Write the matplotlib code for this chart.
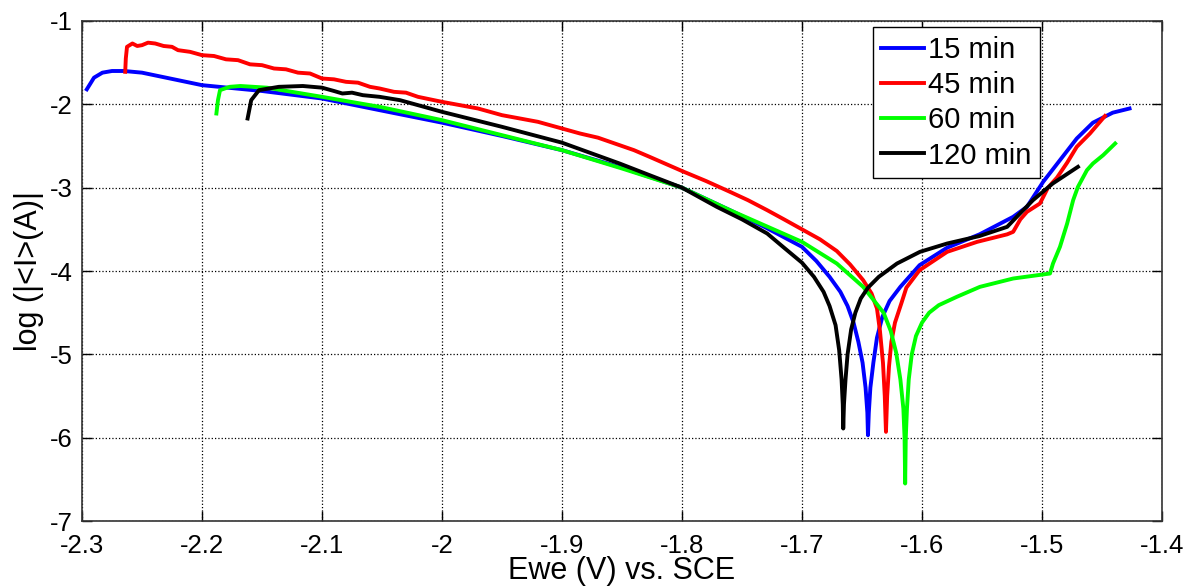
import matplotlib
matplotlib.use("Agg")
import matplotlib.pyplot as plt

plt.rcParams['font.family'] = ['Liberation Sans', 'DejaVu Sans']

# 15 min
x15 = [-2.296, -2.290, -2.283, -2.275, -2.265, -2.25, -2.2, -2.15, -2.1, -2.052, -2.0, -1.95,
       -1.9, -1.85, -1.8, -1.76, -1.73, -1.7, -1.688, -1.677, -1.668, -1.662, -1.657, -1.653,
       -1.6495, -1.647, -1.6455, -1.645, -1.6443, -1.643, -1.6405, -1.6375, -1.633, -1.627,
       -1.618, -1.602, -1.579, -1.552, -1.524, -1.5125, -1.499, -1.485, -1.471, -1.4575, -1.441,
       -1.427]
y15 = [-1.82, -1.68, -1.62, -1.60, -1.60, -1.62, -1.77, -1.84, -1.93, -2.07, -2.22, -2.38,
       -2.55, -2.76, -3.0, -3.27, -3.48, -3.71, -3.88, -4.07, -4.25, -4.42, -4.62, -4.85,
       -5.1, -5.4, -5.7, -5.97, -5.7, -5.4, -5.1, -4.8, -4.55, -4.36,
       -4.19, -3.93, -3.72, -3.56, -3.35, -3.23, -2.93, -2.67, -2.41, -2.22, -2.10,
       -2.05]

# 45 min
x45 = [-2.264, -2.2635, -2.2625, -2.258, -2.254, -2.25, -2.245, -2.239, -2.232, -2.225, -2.22,
       -2.21, -2.2, -2.19, -2.18, -2.17, -2.16, -2.15, -2.14, -2.13, -2.12, -2.11, -2.1, -2.09,
       -2.08, -2.07, -2.06, -2.052, -2.04, -2.03, -2.02, -2.0, -1.985, -1.97, -1.96, -1.95,
       -1.935, -1.92, -1.9, -1.885, -1.87, -1.852, -1.84, -1.827, -1.8, -1.78, -1.76, -1.745,
       -1.729, -1.715, -1.7, -1.685, -1.671, -1.66, -1.649, -1.642, -1.6375, -1.635, -1.6325,
       -1.631, -1.630, -1.629, -1.6275, -1.6255, -1.6225, -1.617, -1.613, -1.602, -1.579, -1.554,
       -1.529, -1.524, -1.518, -1.5125, -1.5017, -1.495, -1.4875, -1.479, -1.471, -1.46, -1.4475]
y45 = [-1.61, -1.45, -1.31, -1.27, -1.30, -1.29, -1.26, -1.27, -1.30, -1.31, -1.35,
       -1.37, -1.41, -1.42, -1.46, -1.47, -1.52, -1.53, -1.57, -1.58, -1.62, -1.63, -1.69, -1.70,
       -1.73, -1.74, -1.79, -1.81, -1.85, -1.86, -1.91, -1.97, -2.01, -2.05, -2.09, -2.13,
       -2.17, -2.21, -2.29, -2.35, -2.40, -2.49, -2.55, -2.63, -2.80, -2.92, -3.05, -3.15,
       -3.27, -3.38, -3.50, -3.62, -3.76, -3.92, -4.11, -4.27, -4.45, -4.72, -5.1,
       -5.5, -5.93, -5.5, -5.15, -4.85, -4.62, -4.38, -4.2, -3.99, -3.77, -3.65,
       -3.56, -3.53, -3.38, -3.29, -3.19, -3.0, -2.88, -2.70, -2.51, -2.35, -2.14]

# 60 min
x60 = [-2.188, -2.1867, -2.185, -2.177, -2.168, -2.146, -2.1, -2.052, -2.0, -1.95, -1.9, -1.85,
       -1.8, -1.76, -1.7, -1.671, -1.649, -1.632, -1.626, -1.6215, -1.618, -1.6155, -1.6145,
       -1.614, -1.6135, -1.6125, -1.611, -1.6085, -1.605, -1.6, -1.594, -1.586, -1.571, -1.5517,
       -1.524, -1.4933, -1.4908, -1.485, -1.479, -1.474, -1.47, -1.4625, -1.4575, -1.449, -1.439]
y60 = [-2.11, -1.95, -1.83, -1.79, -1.78, -1.80, -1.91, -2.03, -2.19, -2.37, -2.55, -2.77,
       -3.0, -3.27, -3.65, -3.91, -4.19, -4.50, -4.72, -4.98, -5.3, -5.65, -6.0,
       -6.55, -6.0, -5.65, -5.3, -5.0, -4.78, -4.62, -4.5, -4.41, -4.31, -4.19,
       -4.09, -4.03, -3.91, -3.71, -3.43, -3.15, -2.99, -2.79, -2.71, -2.61, -2.47]

# 120 min
x120 = [-2.162, -2.159, -2.1525, -2.136, -2.116, -2.1, -2.09, -2.083, -2.075, -2.066, -2.052,
        -2.035, -2.0, -1.95, -1.9, -1.852, -1.827, -1.8, -1.771, -1.75, -1.729, -1.715, -1.7,
        -1.69, -1.682, -1.677, -1.672, -1.669, -1.667, -1.666, -1.6656, -1.665, -1.6637, -1.662,
        -1.659, -1.6555, -1.651, -1.645, -1.636, -1.6208, -1.6017, -1.579, -1.552, -1.529,
        -1.521, -1.5075, -1.491, -1.47]
y120 = [-2.17, -1.95, -1.83, -1.79, -1.78, -1.80, -1.84, -1.87, -1.86, -1.89, -1.91,
        -1.95, -2.09, -2.27, -2.46, -2.71, -2.85, -3.0, -3.23, -3.38, -3.55, -3.72, -3.90,
        -4.07, -4.25, -4.42, -4.65, -4.95, -5.3, -5.6, -5.89, -5.6, -5.3, -5.0,
        -4.7, -4.5, -4.33, -4.2, -4.07, -3.91, -3.77, -3.67, -3.58, -3.47,
        -3.35, -3.15, -2.95, -2.75]

series = [(x15, y15, '15 min', (0, 0, 1)),
          (x45, y45, '45 min', (1, 0, 0)),
          (x60, y60, '60 min', (0, 1, 0)),
          (x120, y120, '120 min', (0, 0, 0))]

fig = plt.figure(figsize=(11.99, 5.88), dpi=100)
ax = fig.add_axes([0.0684, 0.1139, 0.9007, 0.8504])

for x, y, lab, c in series:
    ax.plot(x, y, color=c, lw=2.8, label=lab, solid_joinstyle='round')

ax.set_xlim(-2.3, -1.4)
ax.set_ylim(-7, -1)
ax.set_xticks([-2.3, -2.2, -2.1, -2.0, -1.9, -1.8, -1.7, -1.6, -1.5, -1.4])
ax.set_xticklabels(['-2.3', '-2.2', '-2.1', '-2', '-1.9', '-1.8', '-1.7', '-1.6', '-1.5', '-1.4'])
ax.set_yticks([-7, -6, -5, -4, -3, -2, -1])
ax.set_yticklabels(['-7', '-6', '-5', '-4', '-3', '-2', '-1'])
ax.grid(True, linestyle=':', color='black', linewidth=0.9)
ax.tick_params(direction='in', top=True, right=True, length=7, width=1, labelsize=18.5)
ax.tick_params(axis='x', pad=9)
ax.tick_params(axis='y', pad=7)
for s in ax.spines.values():
    s.set_linewidth(1.2)
    s.set_color('0.2')

ax.set_xlabel('Ewe (V) vs. SCE', fontsize=22, labelpad=-1)
ax.set_ylabel('log (|<I>(A)|', fontsize=22, labelpad=4)

leg = ax.legend(loc='upper left', bbox_to_anchor=(0.732, 0.988), fontsize=21,
                fancybox=False, framealpha=1, edgecolor='black', borderpad=0.3,
                labelspacing=0.25, handlelength=1.45, handletextpad=0.15, borderaxespad=0)
leg.get_frame().set_linewidth(1.0)

fig.savefig('out.png', dpi=100)
